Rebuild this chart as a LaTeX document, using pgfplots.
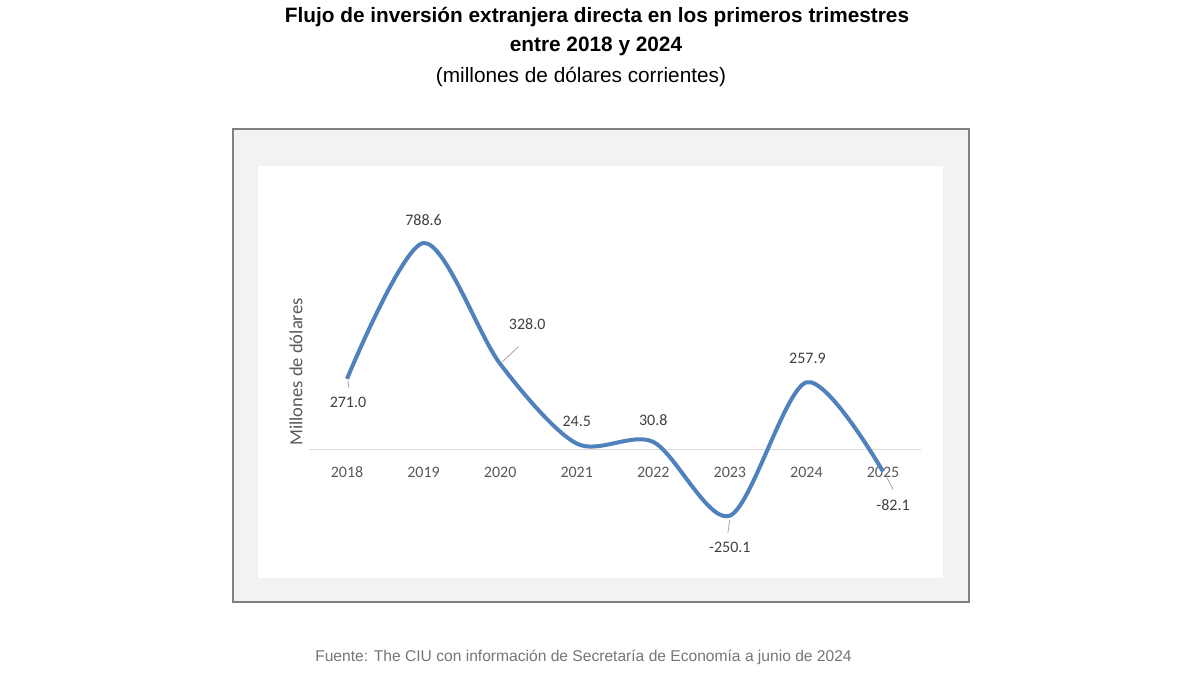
\documentclass[border=0pt]{standalone}
\usepackage{pgfplots}
\pgfplotsset{compat=1.18}
\usepackage{fontspec}
\setmainfont{Liberation Sans}
\newfontfamily\calibri{Carlito}

\definecolor{serie}{RGB}{79,129,189}
\definecolor{marco}{RGB}{128,128,128}
\definecolor{fondo}{RGB}{242,242,242}
\definecolor{etiqueta}{RGB}{64,64,64}
\definecolor{eje}{RGB}{89,89,89}
\definecolor{guia}{RGB}{166,166,166}
\definecolor{fuente}{RGB}{118,118,118}

\begin{document}
\begin{tikzpicture}
\begin{scope}[x=0.75pt,y=0.75pt]
\path[use as bounding box] (0,0) rectangle (1200,675);
\fill[white] (0,0) rectangle (1200,675);

% titles
\node[font=\bfseries\fontsize{15.6}{18}\selectfont] at (597,658) {Flujo de inversión extranjera directa en los primeros trimestres};
\node[font=\bfseries\fontsize{15.6}{18}\selectfont] at (596,629) {entre 2018 y 2024};
\node[font=\fontsize{15.6}{18}\selectfont] at (581,598) {(millones de dólares corrientes)};

% chart frame
\draw[draw=marco, line width=1.5pt, fill=fondo] (233,73) rectangle (969,546);
\fill[white] (258,97) rectangle (943,509);

\node[rotate=90, font=\calibri\fontsize{13.9}{16}\selectfont, text=eje] at (296,303) {Millones de dólares};

\node[font=\fontsize{11.7}{14}\selectfont, text=fuente] at (583.5,18) {Fuente: The CIU con información de Secretaría de Economía a junio de 2024};
\end{scope}

\begin{axis}[
  anchor=origin, at={(260.25pt,168.75pt)},
  scale only axis, width=459.45pt, height=246.09pt,
  xmin=-0.5, xmax=7.5, ymin=-400, ymax=850,
  axis x line=middle, axis y line=none,
  axis line style={draw=black!15, line width=0.75pt, -},
  xtick={0,...,7},
  xticklabels={2018,2019,2020,2021,2022,2023,2024,2025},
  major tick length=0pt,
  xticklabel style={font=\calibri\fontsize{12}{14}\selectfont, text=eje,
    text height=8pt, text depth=0pt, yshift=-9pt},
  clip=false,
]
\addplot[serie, line width=3pt, smooth, tension=0.5] coordinates {
  (0,271.0) (1,788.6) (2,328.0) (3,24.5) (4,30.8) (5,-250.1) (6,257.9) (7,-82.1)
};

% data labels
\begin{scope}[every node/.style={font=\calibri\fontsize{12}{14}\selectfont, text=etiqueta}]
\node[xshift=0.75pt, yshift=-18pt] at (axis cs:0,271.0) {271.0};
\node[yshift=17.25pt] at (axis cs:1,788.6) {788.6};
\node[xshift=20.25pt, yshift=30pt] at (axis cs:2,328.0) {328.0};
\node[yshift=16.5pt] at (axis cs:3,24.5) {24.5};
\node[yshift=16.5pt] at (axis cs:4,30.8) {30.8};
\node[yshift=-24pt] at (axis cs:5,-250.1) {-250.1};
\node[xshift=0.75pt, yshift=18pt] at (axis cs:6,257.9) {257.9};
\node[xshift=7.5pt, yshift=-25pt] at (axis cs:7,-82.1) {-82.1};
\end{scope}

% leader lines
\draw[guia, line width=0.6pt] ([shift={(0.75pt,-1.5pt)}]axis cs:0,271.0) -- ([shift={(1.5pt,-6.75pt)}]axis cs:0,271.0);
\draw[guia, line width=0.6pt] ([shift={(0.75pt,0.75pt)}]axis cs:2,328.0) -- ([shift={(13.5pt,12.75pt)}]axis cs:2,328.0);
\draw[guia, line width=0.6pt] ([shift={(0pt,-3pt)}]axis cs:5,-250.1) -- ([shift={(-1.5pt,-12.75pt)}]axis cs:5,-250.1);
\draw[guia, line width=0.6pt] ([shift={(3pt,-4.5pt)}]axis cs:7,-82.1) -- ([shift={(7.5pt,-13.5pt)}]axis cs:7,-82.1);
\end{axis}
\end{tikzpicture}
\end{document}
